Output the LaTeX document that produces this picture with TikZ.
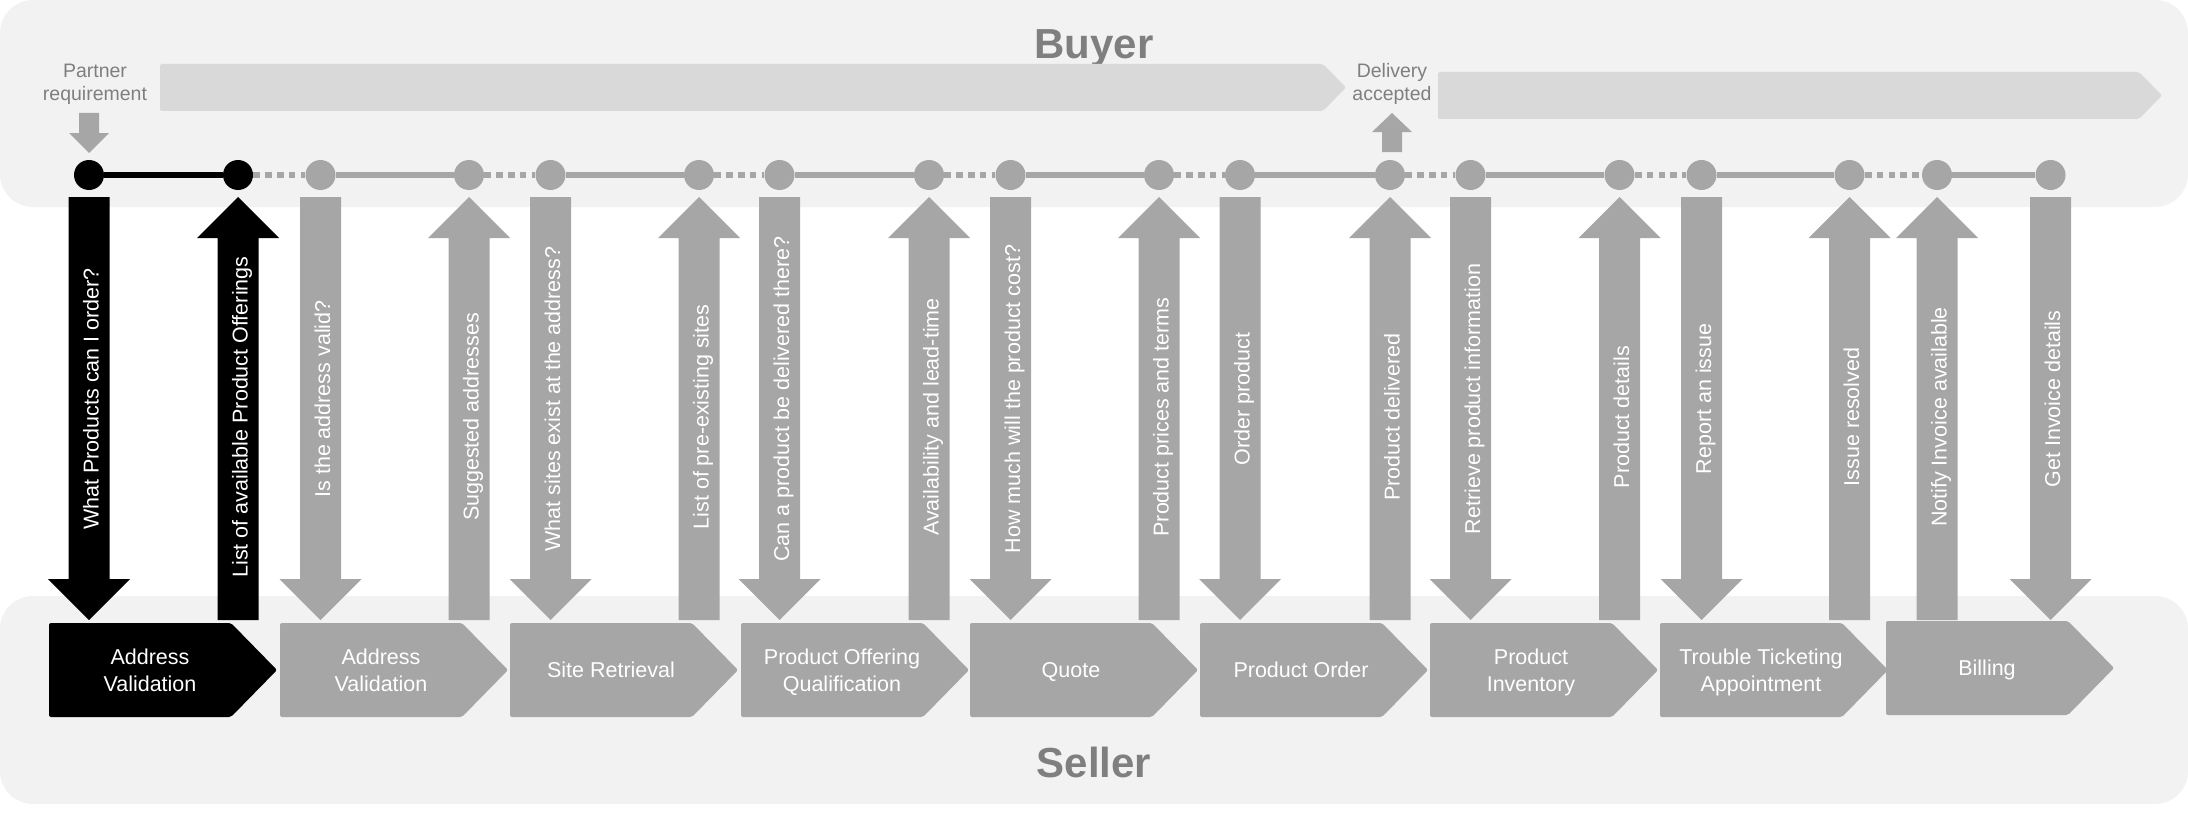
\documentclass[tikz,border=0pt]{standalone}
\usepackage{fontspec}
\setmainfont{Liberation Sans}
\definecolor{panelgray}{HTML}{F2F2F2}
\definecolor{bargray}{HTML}{D9D9D9}
\definecolor{midgray}{HTML}{A6A6A6}
\definecolor{textgray}{HTML}{7F7F7F}
\tikzset{
  bgpanel/.style={fill=panelgray, rounded corners=16.5pt},
  topbar/.style={fill=bargray, rounded corners=1pt},
  tdot/.style={circle, fill=#1, minimum size=15pt, inner sep=0pt},
  tsolid/.style={draw=#1, line width=2.75pt},
  tdots/.style={draw=#1, line width=2.65pt, dash pattern=on 3.3pt off 2.6pt},
  chevshape/.style={fill=#1, rounded corners=1pt},
  chevlabel/.style={text=white, font=\fontsize{10.75pt}{13.5pt}\selectfont, align=center, inner sep=0pt},
  msglabel/.style={text=white, font=\fontsize{10.75pt}{13pt}\selectfont, inner sep=0pt, anchor=base, rotate=90},
  notelabel/.style={text=textgray, font=\fontsize{9.75pt}{11.5pt}\selectfont, align=center, inner sep=0pt},
  sidetitle/.style={text=textgray, font=\fontsize{21pt}{25pt}\selectfont\bfseries, inner sep=0pt, anchor=base},
}
\newcommand{\msgdown}[2]{\fill[#2] ({#1-20.5},197) -- ({#1+20.5},197) -- ({#1+20.5},579) -- ({#1+41},579) -- (#1,620) -- ({#1-41},579) -- ({#1-20.5},579) -- cycle;}
\newcommand{\msgup}[2]{\fill[#2] (#1,197) -- ({#1+41},238) -- ({#1+20.5},238) -- ({#1+20.5},620) -- ({#1-20.5},620) -- ({#1-20.5},238) -- ({#1-41},238) -- cycle;}
\newcommand{\chevpath}[3]{\fill[chevshape=#3] (#1,#2) -- ({#1+182},#2) -- ({#1+228},{#2+47}) -- ({#1+182},{#2+94}) -- (#1,{#2+94}) -- cycle;}
\begin{document}
\begin{tikzpicture}[x=0.5pt,y=-0.5pt]
\useasboundingbox (0,0) rectangle (2188,813);
% panels
\fill[bgpanel] (0,0) rectangle (2188,207);
\fill[bgpanel] (0,596) rectangle (2188,804);
\node[sidetitle] (buyer) at (1094,59) {Buyer};
\node[sidetitle] (seller) at (1094,777) {Seller};
% top bars
\fill[topbar] (160,64) -- (1323,64) -- (1346,87.5) -- (1323,111) -- (160,111) -- cycle;
\fill[topbar] (1438,72) -- (2139,72) -- (2162,95.5) -- (2139,119) -- (1438,119) -- cycle;
% notes
\node[notelabel] (partner) at (95,84) {\strut Partner\\\strut requirement};
\node[notelabel] (delivery) at (1392,84) {\strut Delivery\\\strut accepted};
\fill[midgray] (79,113) -- (99,113) -- (99,133) -- (109,133) -- (89,153) -- (69,133) -- (79,133) -- cycle;
\fill[midgray] (1392,113) -- (1412,132) -- (1402,132) -- (1402,152) -- (1382,152) -- (1382,132) -- (1372,132) -- cycle;
% timeline dots
\node[tdot=black] (c1) at (89,175) {};
\node[tdot=black] (c2) at (238,175) {};
\foreach \i/\x in {3/320.5,4/469,5/550.5,6/699,7/779.5,8/929,9/1010.5,10/1159,11/1240,12/1390,13/1470.5,14/1619.5,15/1701.5,16/1849.5,17/1937,18/2050.5}
  \node[tdot=midgray] (c\i) at (\x,175) {};
\draw[tsolid=black] (c1) -- (c2);
\foreach \a/\b in {3/4,5/6,7/8,9/10,11/12,13/14,15/16,17/18}
  \draw[tsolid=midgray] (c\a) -- (c\b);
\foreach \a/\b in {2/3,4/5,6/7,8/9,10/11,12/13,14/15,16/17}
  \draw[tdots=midgray] (c\a) -- (c\b);
% message arrows
\msgdown{89}{black}
\node[msglabel] (m1) at (98.5,399) {What Products can I order?};
\msgup{238}{black}
\node[msglabel] (m2) at (247.5,417) {List of available  Product Offerings};
\foreach \i/\x/\lab in {3/320.5/{Is the address valid?},5/550.5/{What sites exist at the address?},7/779.5/{Can a product be delivered there?},9/1010.5/{How much will the product cost?},11/1240/{Order product},13/1470.5/{Retrieve product information},15/1701.5/{Report an issue},18/2050.5/{Get Invoice details}}{
  \msgdown{\x}{midgray}
  \node[msglabel] (m\i) at ({\x+9.5},399) {\lab};
}
\foreach \i/\x/\lab in {4/469/{Suggested addresses},6/699/{List of pre-existing sites},8/929/{Availability and lead-time},10/1159/{Product prices and terms},12/1390/{Product delivered},14/1619.5/{Product details},16/1849.5/{Issue resolved},17/1937/{Notify Invoice available}}{
  \msgup{\x}{midgray}
  \node[msglabel] (m\i) at ({\x+9.5},417) {\lab};
}
% seller chevrons
\chevpath{49}{623}{black}
\node[chevlabel] (s1) at (150,672.5) {\strut Address\\\strut Validation};
\foreach \i/\l/\t/\lab in {2/280/623/{\strut Address\\\strut Validation},3/510/623/{\strut Site Retrieval},4/741/623/{\strut Product Offering\\\strut Qualification},5/970/623/{\strut Quote},6/1200/623/{\strut Product Order},7/1430/623/{\strut Product\\\strut Inventory},8/1660/623/{\strut Trouble Ticketing\\\strut Appointment},9/1886/621/{\strut Billing}}{
  \chevpath{\l}{\t}{midgray}
  \node[chevlabel] (s\i) at ({\l+101},{\t+49.5}) {\lab};
}
\end{tikzpicture}
\end{document}
